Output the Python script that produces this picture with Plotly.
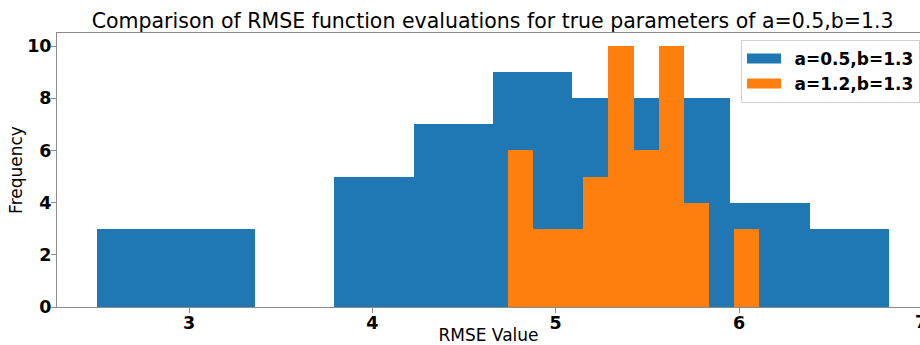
import plotly.graph_objects as go

# Histogram bin edges and counts for the two parameter sets
edges_a05 = [2.4965, 2.9286, 3.3607, 3.7928, 4.2249, 4.6570, 5.0891, 5.5212,
             5.9533, 6.3854, 6.8175]
counts_a05 = [3, 3, 0, 5, 7, 9, 8, 8, 4, 3]

edges_a12 = [4.741, 4.8777, 5.0144, 5.1511, 5.2878, 5.4245, 5.5612, 5.6979,
             5.8346, 5.9713, 6.108]
counts_a12 = [6, 3, 3, 5, 10, 6, 10, 4, 0, 3]

labels = ["a=0.5,b=1.3", "a=1.2,b=1.3"]
colors = ["#1f77b4", "#ff7f0e"]

x_ticks = [3, 4, 5, 6, 7]
y_ticks = [0, 2, 4, 6, 8, 10]


def bar_geometry(edges):
    centers = [(lo + hi) / 2 for lo, hi in zip(edges[:-1], edges[1:])]
    widths = [hi - lo for lo, hi in zip(edges[:-1], edges[1:])]
    return centers, widths


fig = go.Figure()
for edges, counts, color in [(edges_a05, counts_a05, colors[0]),
                             (edges_a12, counts_a12, colors[1])]:
    centers, widths = bar_geometry(edges)
    fig.add_trace(go.Bar(
        x=centers, y=counts, width=widths,
        marker=dict(color=color, line=dict(width=0)),
        showlegend=False,
    ))

# Wide rectangular legend keys; an en space widens the key-to-text gap
for label, color in zip(labels, colors):
    fig.add_trace(go.Scatter(
        x=[None], y=[None], mode="lines", name="\u2002" + label,
        line=dict(color=color, width=12),
    ))

axis_gray = "#8c8c8c"
fig.update_layout(
    width=920, height=345,
    margin=dict(l=57, r=0, t=33, b=38, autoexpand=False),
    paper_bgcolor="white", plot_bgcolor="white",
    barmode="overlay", bargap=0,
    font=dict(family="DejaVu Sans", color="black"),
    title=dict(
        text="Comparison of RMSE function evaluations for true parameters of a=0.5,b=1.3",
        font=dict(size=20.5, family="DejaVu Sans"),
        x=0.5355, xref="container", xanchor="center",
        y=1 - 21 / 345, yref="container", yanchor="middle",
    ),
    legend=dict(
        x=1, xanchor="right", y=0.975, yanchor="top",
        bgcolor="rgba(255,255,255,0.8)", bordercolor="#d0d0d0", borderwidth=1,
        font=dict(size=17, family="DejaVu Sans", weight="bold"),
        itemwidth=34, tracegroupgap=0,
    ),
    xaxis=dict(
        range=[2.28, 6.987], tickvals=x_ticks, ticks="outside", ticklen=5,
        tickcolor=axis_gray, showline=True, linecolor=axis_gray, linewidth=1,
        mirror=True, showgrid=False, zeroline=False, automargin=False,
        tickfont=dict(size=17.5, weight="bold"), ticklabelstandoff=-5,
        title=dict(text="RMSE Value", font=dict(size=17), standoff=9),
    ),
    yaxis=dict(
        range=[0, 10.5], tickvals=y_ticks, ticks="outside", ticklen=5,
        tickcolor=axis_gray, showline=True, linecolor=axis_gray, linewidth=1,
        showgrid=False, zeroline=False, automargin=False,
        tickfont=dict(size=17.5, weight="bold"), ticklabelstandoff=-4,
        title=dict(text="Frequency", font=dict(size=17), standoff=0),
    ),
)

# Tick label for 7 sits at the right edge of the plotting area
fig.add_annotation(
    x=1.001, xref="paper", y=0, yref="paper", yshift=-3,
    text="<b>7</b>", showarrow=False, xanchor="center", yanchor="top",
    font=dict(size=17.5, family="DejaVu Sans"),
)

fig.write_html("out.html")
